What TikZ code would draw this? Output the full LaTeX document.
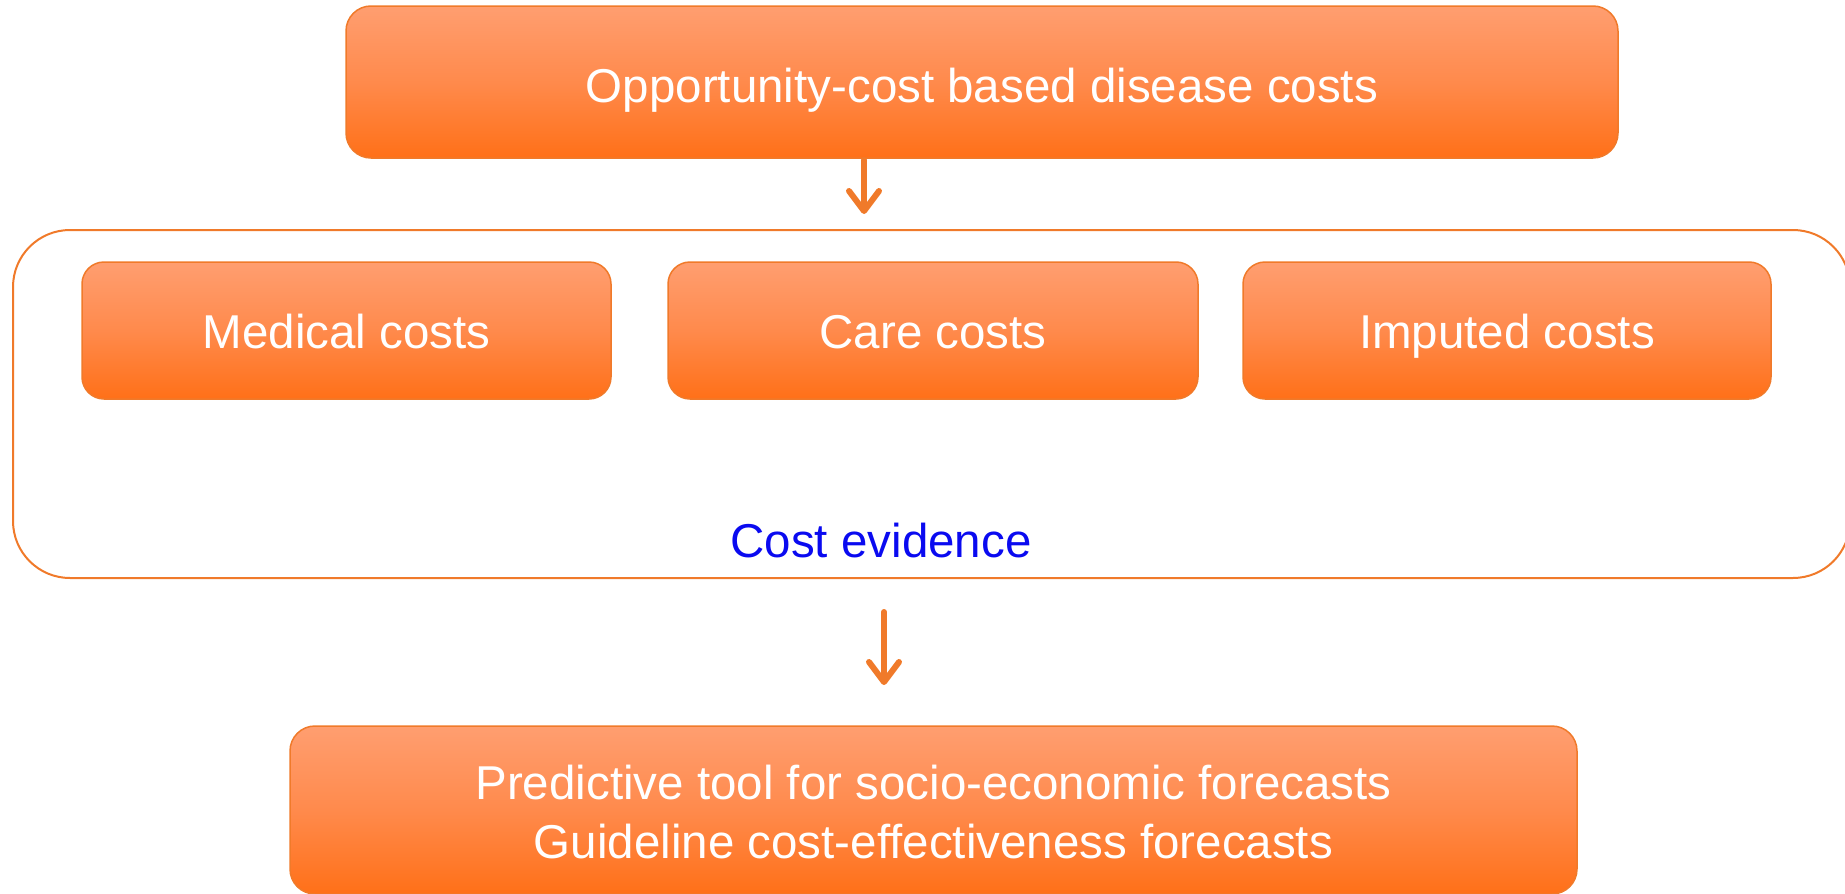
\documentclass[tikz,border=0pt]{standalone}
\usepackage{fontspec}
\setmainfont{Liberation Sans}
\usetikzlibrary{arrows.meta}
\definecolor{olight}{HTML}{FF9E70}
\definecolor{omid}{HTML}{FF8A4C}
\definecolor{odark}{HTML}{FF7018}
\definecolor{oline}{HTML}{F07A2A}
\definecolor{evblue}{HTML}{0A0AF0}
\tikzset{
  obox/.style={draw=oline, line width=1.5pt, rounded corners=22pt,
    top color=olight, bottom color=odark, middle color=omid,
    text=white, inner sep=0pt, align=center,
    font=\fontsize{47.5}{59}\selectfont},
  oneline/.style={text height=35pt, text depth=0pt},
  container/.style={draw=oline, line width=2pt, rounded corners=57pt, inner sep=0pt},
  flow/.style={draw=oline, line width=6pt, line cap=round,
    -{Straight Barb[length=20pt, width=30pt, line width=6pt, round]}},
}
\begin{document}
\begin{tikzpicture}[x=1pt, y=-1pt]
\useasboundingbox (0,0) rectangle (1845,894);
\node[obox, rounded corners=25pt, text height=40pt, text depth=0pt, minimum width=1272pt, minimum height=152pt] (top) at (982,82) {Opportunity-cost based disease costs};
\node[container, minimum width=1837pt, minimum height=348pt] (ev) at (931.5,404) {};
\node[obox, oneline, minimum width=529pt, minimum height=137pt] (med) at (346.5,330.5) {Medical costs};
\node[obox, oneline, minimum width=530pt, minimum height=137pt] (care) at (933,330.5) {Care costs};
\node[obox, oneline, minimum width=528pt, minimum height=137pt] (imp) at (1507,330.5) {Imputed costs};
\node[text=evblue, font=\fontsize{47.5}{59}\selectfont, inner sep=0pt] (evlabel) at (881,541) {Cost evidence};
\node[obox, rounded corners=25pt, minimum width=1287pt, minimum height=168pt] (pred) at (933.5,810) {\raisebox{-7pt}[\height][\depth]{\begin{tabular}{@{}c@{}}Predictive tool for socio-economic forecasts\\Guideline cost-effectiveness forecasts\end{tabular}}};
\coordinate (a1s) at (864,160);
\coordinate (a1e) at (864,214);
\coordinate (a2s) at (884,612);
\coordinate (a2e) at (884,685);
\draw[flow] (a1s) -- (a1e);
\draw[flow] (a2s) -- (a2e);
\end{tikzpicture}
\end{document}
